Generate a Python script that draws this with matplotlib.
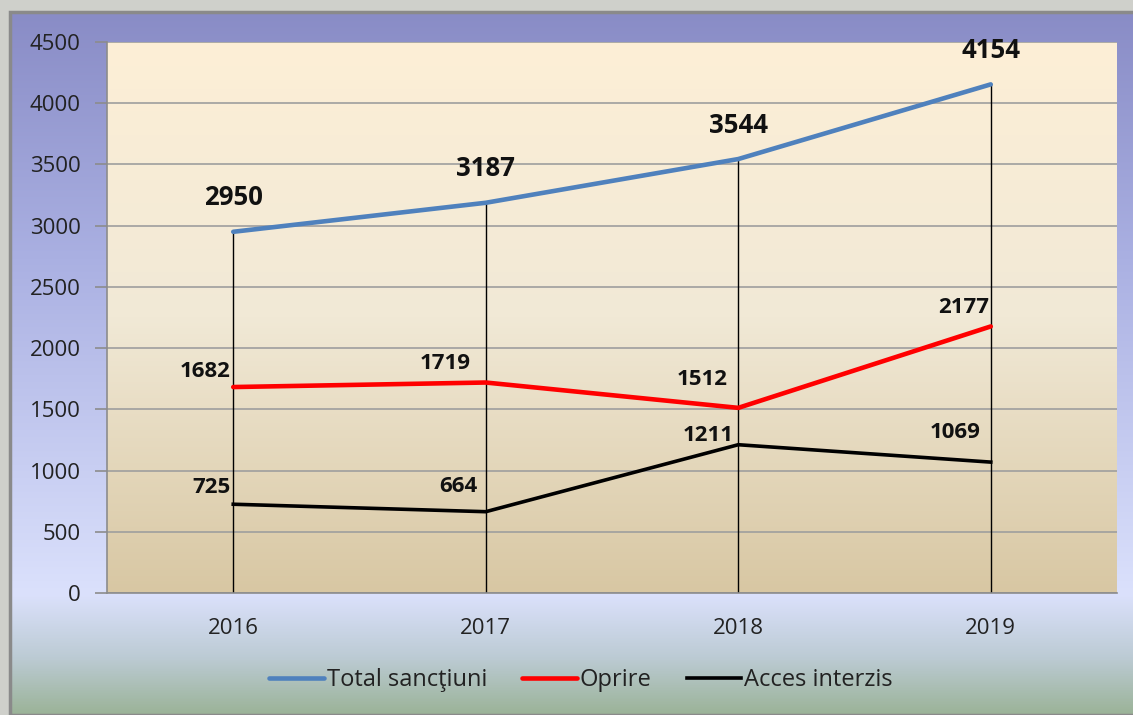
import matplotlib
matplotlib.use('Agg')
import matplotlib.pyplot as plt
import numpy as np
from matplotlib.colors import LinearSegmentedColormap
from matplotlib.patches import Rectangle

# Date
years = ['2016', '2017', '2018', '2019']
total = [2950, 3187, 3544, 4154]
oprire = [1682, 1719, 1512, 2177]
acces = [725, 664, 1211, 1069]
names = ['Total sancţiuni', 'Oprire', 'Acces interzis']
y_ticks = list(range(0, 5000, 500))

# pozitiile etichetelor (pixeli fata de punct)
off_total = [(0, 34), (0, 34), (0, 34), (0, 34)]
off_oprire = [(-3, 16), (-15, 19), (-11, 28), (-2, 19)]
off_acces = [(-3, 17), (-8, 25), (-5, 9), (-10, 30)]

plt.rcParams['font.family'] = ['Open Sans', 'DejaVu Sans']

W, H = 1133, 715
fig = plt.figure(figsize=(W / 100, H / 100), dpi=100)
fig.patch.set_facecolor('#cfd0cb')


def fx(px):
    return px / W


def fy(py):
    return 1 - py / H


# Fundalul cadrului (gradient)
frame = fig.add_axes([fx(10), 0, 1 - fx(10), fy(12)])
frame_cmap = LinearSegmentedColormap.from_list('frame', [
    (0.0, '#898cc6'), (0.35, '#aab0e2'), (0.83, '#dbe1fc'),
    (0.92, '#bccbd4'), (1.0, '#9bb398')])
frame.imshow(np.linspace(0, 1, 256).reshape(-1, 1), cmap=frame_cmap,
             aspect='auto', extent=[0, 1, 0, 1])
frame.set_axis_off()
fig.patches.append(Rectangle((fx(10), 0), 1, fy(12), transform=fig.transFigure,
                             fill=False, edgecolor='#8a8a8a', lw=2.5))

# Zona graficului
ax = fig.add_axes([fx(107), fy(593), fx(1117) - fx(107), fy(42) - fy(593)])
plot_cmap = LinearSegmentedColormap.from_list('plot', [
    (0.0, '#fdefd7'), (0.5, '#f1e9d6'), (1.0, '#d8c7a3')])
ax.imshow(np.linspace(0, 1, 256).reshape(-1, 1), cmap=plot_cmap,
          aspect='auto', extent=[-0.5, 3.5, 0, 4500], zorder=0)

x = np.arange(len(years))
ax.vlines(x, 0, total, colors='black', lw=1, zorder=2)
ax.plot(x, total, color='#4f81bd', lw=3.3, label=names[0], zorder=3,
        solid_capstyle='round')
ax.plot(x, oprire, color='#ff0000', lw=3.3, label=names[1], zorder=3,
        solid_capstyle='round')
ax.plot(x, acces, color='black', lw=2.6, label=names[2], zorder=3)

for xi, v, o in zip(x, total, off_total):
    ax.annotate(str(v), (xi, v), xytext=o, textcoords='offset pixels',
                ha='center', va='center', fontsize=18.5, fontweight='bold',
                color='#111111', zorder=4)
for vals, offs in [(oprire, off_oprire), (acces, off_acces)]:
    for xi, v, o in zip(x, vals, offs):
        ax.annotate(str(v), (xi, v), xytext=o, textcoords='offset pixels',
                    ha='right', va='center', fontsize=16, fontweight='bold',
                    color='#111111', zorder=4)

ax.set_xlim(-0.5, 3.5)
ax.set_ylim(0, 4500)
ax.set_yticks(y_ticks)
ax.set_xticks(x)
ax.set_xticklabels(years)
ax.yaxis.grid(True, color='#9e9e9e', lw=1.2)
ax.set_axisbelow(True)
ax.tick_params(axis='y', length=9, width=1.2, color='#8c8c8c', pad=10,
               labelsize=16, labelcolor='#222222')
ax.tick_params(axis='x', length=0, pad=18, labelsize=16, labelcolor='#222222')
for s in ['top', 'right']:
    ax.spines[s].set_visible(False)
for s in ['left', 'bottom']:
    ax.spines[s].set_color('#8c8c8c')
    ax.spines[s].set_linewidth(1.2)

fig.legend(loc='center', bbox_to_anchor=(fx(581), fy(680)), ncol=3,
           frameon=False, fontsize=17, handlelength=2.3, handletextpad=0.12,
           columnspacing=1.5, labelcolor='#222222')

fig.savefig('out.png', dpi=100)
